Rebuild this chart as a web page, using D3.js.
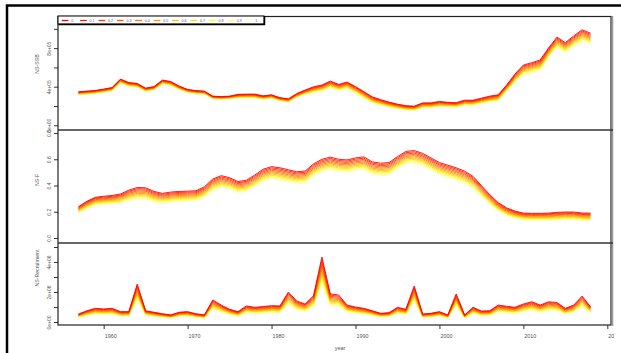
<!DOCTYPE html>
<html>
<head>
<meta charset="utf-8">
<script src="https://cdn.jsdelivr.net/npm/d3@7"></script>
<style>
  body { margin: 0; background: #fff; }
  text { font-family: "Liberation Sans", Arial, sans-serif; fill: #555; }
</style>
</head>
<body>
<div id="chart"></div>
<script>
// years on the x axis
const years = d3.range(1957, 2019);

// legend levels and their colours
const levels = ['0', '0.1', '0.2', '0.3', '0.4', '0.5', '0.6', '0.7', '0.8', '0.9', '1'];
const levelColors = ['#ff0000', '#ff1c00', '#ff3a00', '#ff5a00', '#ff7a00', '#ff9c00',
  '#ffbe00', '#ffdf00', '#ffff10', '#ffff70', '#ffffc8'];

// NS-SSB, thousands (level 0 = top line, level 1 = bottom line)
const ssbTop = [347, 354, 361, 375, 391, 479, 443, 434, 385, 401, 469, 453, 406, 372, 359, 354,
  302, 297, 302, 320, 323, 323, 305, 316, 286, 274, 328, 365, 399, 417, 458, 424, 448, 401,
  349, 295, 266, 240, 219, 203, 198, 232, 232, 247, 238, 234, 260, 260, 281, 302, 316, 417,
  531, 625, 649, 677, 802, 914, 857, 927, 990, 955];
const ssbBottom = [316, 322, 329, 341, 356, 436, 403, 395, 350, 365, 427, 412, 369, 339, 327, 322,
  275, 270, 275, 282, 284, 284, 268, 278, 252, 241, 289, 321, 339, 354, 389, 360, 381, 333,
  279, 230, 207, 187, 171, 158, 154, 181, 181, 193, 190, 187, 208, 208, 225, 242, 253, 350,
  446, 525, 545, 569, 706, 804, 754, 816, 871, 840];

// NS-F
const fTop = [0.239, 0.28, 0.31, 0.318, 0.324, 0.335, 0.365, 0.385, 0.383, 0.355, 0.34, 0.35,
  0.355, 0.357, 0.36, 0.39, 0.45, 0.475, 0.46, 0.43, 0.44, 0.48, 0.524, 0.544, 0.535, 0.52,
  0.505, 0.51, 0.565, 0.6, 0.616, 0.6, 0.595, 0.61, 0.618, 0.58, 0.57, 0.575, 0.62, 0.66,
  0.666, 0.645, 0.61, 0.575, 0.555, 0.535, 0.51, 0.47, 0.4, 0.33, 0.27, 0.23, 0.205, 0.19,
  0.188, 0.188, 0.19, 0.195, 0.198, 0.198, 0.19, 0.19];
const fBottom = [0.19, 0.225, 0.25, 0.255, 0.258, 0.265, 0.285, 0.295, 0.295, 0.275, 0.265, 0.272,
  0.278, 0.28, 0.285, 0.31, 0.36, 0.385, 0.37, 0.345, 0.355, 0.39, 0.43, 0.45, 0.44, 0.425,
  0.415, 0.42, 0.47, 0.505, 0.519, 0.505, 0.5, 0.515, 0.52, 0.485, 0.475, 0.48, 0.525, 0.565,
  0.57, 0.55, 0.515, 0.48, 0.46, 0.44, 0.415, 0.38, 0.315, 0.255, 0.205, 0.17, 0.15, 0.138,
  0.135, 0.135, 0.135, 0.138, 0.14, 0.14, 0.135, 0.13];

// NS-Recruitment, millions
const recTop = [0.53, 0.75, 0.91, 0.87, 0.91, 0.69, 0.69, 2.53, 0.75, 0.65, 0.55, 0.47, 0.65, 0.69,
  0.55, 0.47, 1.47, 1.13, 0.85, 0.69, 1.07, 0.98, 1.03, 1.09, 1.07, 2.0, 1.4, 1.2, 1.75, 4.33,
  1.87, 1.8, 1.13, 1.0, 0.91, 0.75, 0.58, 0.62, 0.98, 0.85, 2.4, 0.53, 0.58, 0.69, 0.47, 1.87,
  0.47, 0.98, 0.73, 0.75, 1.13, 1.05, 0.98, 1.2, 1.35, 1.13, 1.35, 1.3, 0.91, 1.13, 1.73, 1.02];
const recBottom = [0.31, 0.44, 0.53, 0.50, 0.53, 0.40, 0.40, 1.47, 0.44, 0.38, 0.32, 0.27, 0.38, 0.40,
  0.32, 0.27, 0.85, 0.66, 0.49, 0.40, 0.62, 0.57, 0.60, 0.63, 0.62, 1.16, 0.81, 0.70, 1.02, 2.51,
  1.08, 1.04, 0.66, 0.58, 0.53, 0.44, 0.34, 0.36, 0.57, 0.49, 1.39, 0.31, 0.34, 0.40, 0.27, 1.08,
  0.27, 0.57, 0.42, 0.44, 0.66, 0.61, 0.57, 0.70, 0.78, 0.66, 0.78, 0.75, 0.53, 0.66, 1.00, 0.59];

// axis ticks and labels
const xTicks = [1960, 1970, 1980, 1990, 2000, 2010, 2020];
const ssbTicks = [0, 200, 400, 600, 800, 1000];
const ssbTickLabels = ['0e+00', '', '4e+05', '', '8e+05', ''];
const fTicks = [0, 0.2, 0.4, 0.6, 0.8];
const fTickLabels = ['0.0', '0.2', '0.4', '0.6', '0.8'];
const recTicks = [0, 1, 2, 3, 4, 5];
const recTickLabels = ['0e+00', '', '2e+06', '', '4e+06', ''];


const width = 621;
const height = 353;
const left = 58;
const right = 611;

const svg = d3.select('#chart')
  .append('svg')
    .attr('width', width)
    .attr('height', height);

svg.append('clipPath')
  .attr('id', 'pageClip')
  .append('rect')
    .attr('x', 0).attr('y', 0)
    .attr('width', 614).attr('height', height);

// outer frame
svg.append('rect')
  .attr('x', 7).attr('y', 5.5)
  .attr('width', 640).attr('height', 380)
  .attr('fill', 'none')
  .attr('stroke', '#000')
  .attr('stroke-width', 2.5);

const x = d3.scaleLinear()
  .domain([1954.56, 2020.44])
  .range([left, right]);

const panels = [
  { title: 'NS-SSB', titleY: 64, top: 16.5, bottom: 130, domain: [-49, 1128],
    hi: ssbTop, lo: ssbBottom, ticks: ssbTicks, labels: ssbTickLabels },
  { title: 'NS-F', titleY: 180, top: 130, bottom: 243, domain: [-0.038, 0.823],
    hi: fTop, lo: fBottom, ticks: fTicks, labels: fTickLabels },
  { title: 'NS-Recruitment', titleY: 268, top: 243, bottom: 325, domain: [-0.2, 5.267],
    hi: recTop, lo: recBottom, ticks: recTicks, labels: recTickLabels }
];

function drawPanel(p) {
  const y = d3.scaleLinear()
    .domain(p.domain)
    .range([p.bottom, p.top]);

  const g = svg.append('g');

  // one line per level, yellow first so red sits on top
  for (let k = levels.length - 1; k >= 0; k--) {
    const w = +levels[k];
    g.append('path')
      .datum(years.map((yr, i) => ({ year: yr, value: p.hi[i] + (p.lo[i] - p.hi[i]) * w })))
      .attr('fill', 'none')
      .attr('stroke', levelColors[k])
      .attr('stroke-width', 0.9)
      .attr('stroke-linejoin', 'round')
      .attr('d', d3.line()
        .x(d => x(d.year))
        .y(d => y(d.value)));
  }

  const yAxis = d3.axisLeft(y)
    .tickValues(p.ticks)
    .tickSize(4)
    .tickFormat((d, i) => p.labels[i]);

  const ag = g.append('g')
    .attr('transform', 'translate(' + left + ',0)')
    .call(yAxis);
  ag.select('.domain').remove();
  ag.selectAll('line').attr('stroke', '#333');
  ag.selectAll('text')
    .attr('transform', 'rotate(-90)')
    .attr('x', 0)
    .attr('y', -7.5)
    .attr('dy', 0)
    .attr('text-anchor', 'middle')
    .attr('font-size', 5)
    .attr('fill', '#555');

  g.append('text')
    .attr('transform', 'translate(39,' + p.titleY + ') rotate(-90)')
    .attr('text-anchor', 'middle')
    .attr('font-size', 5.2)
    .text(p.title);
}

panels.forEach(drawPanel);

// panel frames
svg.append('rect')
  .attr('x', left).attr('y', 16.5)
  .attr('width', right - left).attr('height', 325 - 16.5)
  .attr('fill', 'none')
  .attr('stroke', '#222')
  .attr('stroke-width', 1.2);
svg.append('line')
  .attr('x1', right + 1.5).attr('x2', right + 1.5)
  .attr('y1', 16).attr('y2', 326)
  .attr('stroke', '#999')
  .attr('stroke-width', 1.5);
[130, 243].forEach(v => {
  svg.append('line')
    .attr('x1', left).attr('x2', right + 2)
    .attr('y1', v).attr('y2', v)
    .attr('stroke', '#333')
    .attr('stroke-width', 1.6);
});

// x axis
const xAxis = d3.axisBottom(x)
  .tickValues(xTicks)
  .tickSize(4)
  .tickFormat(d3.format('d'));

const xg = svg.append('g')
  .attr('clip-path', 'url(#pageClip)')
  .attr('transform', 'translate(0,325)')
  .call(xAxis);
xg.select('.domain').remove();
xg.selectAll('line').attr('stroke', '#333');
xg.selectAll('text')
  .attr('y', 12.5)
  .attr('dy', 0)
  .attr('x', 0.5)
  .attr('text-anchor', 'start')
  .attr('font-size', 5.4)
  .attr('fill', '#555');

svg.append('text')
  .attr('x', 340)
  .attr('y', 350)
  .attr('text-anchor', 'middle')
  .attr('font-size', 5.4)
  .text('year');

// legend
const legend = svg.append('g');
legend.append('rect')
  .attr('x', left).attr('y', 16)
  .attr('width', 206).attr('height', 8)
  .attr('fill', '#fff')
  .attr('stroke', '#000')
  .attr('stroke-width', 1);
legend.append('polyline')
  .attr('points', (left + 0.5) + ',24.5 ' + (left + 206.5) + ',24.5 ' + (left + 206.5) + ',16')
  .attr('fill', 'none')
  .attr('stroke', '#000')
  .attr('stroke-width', 1.5);

levels.forEach((lv, i) => {
  const lx = 61.7 + i * 18.4;
  legend.append('line')
    .attr('x1', lx).attr('x2', lx + 6.7)
    .attr('y1', 20.5).attr('y2', 20.5)
    .attr('stroke', levelColors[i])
    .attr('stroke-width', 1.3);
  legend.append('text')
    .attr('x', lx + 9.5)
    .attr('y', 22)
    .attr('font-size', 3.6)
    .text(lv);
});
</script>
</body>
</html>
